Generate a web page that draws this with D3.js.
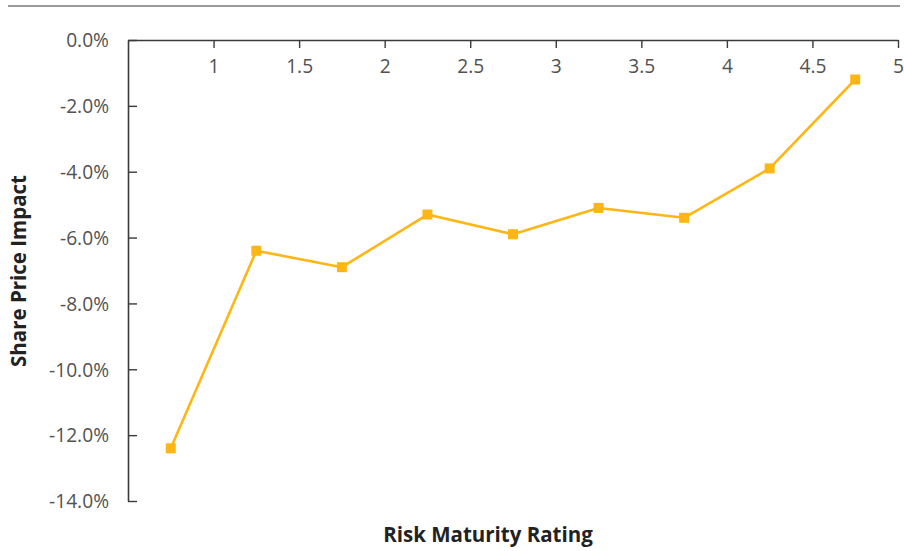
<!DOCTYPE html>
<html>
<head>
<meta charset="utf-8">
<script src="https://cdn.jsdelivr.net/npm/d3@7"></script>
<style>
  html, body { margin: 0; padding: 0; background: #fff; }
  svg { display: block; }
  text { font-family: "Open Sans", "Noto Sans", sans-serif; }
</style>
</head>
<body>
<script>
// Risk maturity rating vs. share price impact
const ratings = [0.75, 1.25, 1.75, 2.25, 2.75, 3.25, 3.75, 4.25, 4.75];
const impact = [-12.4, -6.4, -6.9, -5.3, -5.9, -5.1, -5.4, -3.9, -1.2];
const xTicks = [1, 1.5, 2, 2.5, 3, 3.5, 4, 4.5, 5];
const yTicks = [0, -2, -4, -6, -8, -10, -12, -14];
const xTitle = "Risk Maturity Rating";
const yTitle = "Share Price Impact";

const W = 904, H = 551;
const svg = d3.select("body").append("svg").attr("width", W).attr("height", H);

// separator rule across the top
svg.append("line")
  .attr("x1", 8).attr("x2", 900).attr("y1", 6).attr("y2", 6)
  .attr("stroke", "#9a9a9a").attr("stroke-width", 2);

const x = d3.scaleLinear().domain([0.5, 5]).range([128, 898]);
const y = d3.scaleLinear().domain([0, -14]).range([40, 501]);

const axisColor = "#3a3a3a";
const labelColor = "#525252";
const tickFont = 19.2;

// horizontal axis along the top (zero line), ticks pointing down into the plot
const gx = svg.append("g").attr("transform", `translate(0,${y(0)})`)
  .call(d3.axisBottom(x).tickValues(xTicks).tickFormat(d3.format("")).tickSize(8).tickSizeOuter(0).tickPadding(11));
gx.select(".domain").attr("stroke", axisColor).attr("stroke-width", 1.6);
gx.selectAll(".tick line").attr("stroke", axisColor).attr("stroke-width", 1.4);
gx.selectAll(".tick text").attr("fill", labelColor).attr("font-size", tickFont)
  .attr("font-family", "'Open Sans', 'Noto Sans', sans-serif");

// vertical axis, ticks pointing right into the plot, labels on the left
const pct = d => (d < 0 ? "-" : "") + d3.format(".1f")(Math.abs(d)) + "%";
const gy = svg.append("g").attr("transform", `translate(${x(0.5)},0)`)
  .call(d3.axisRight(y).tickValues(yTicks).tickFormat(pct).tickSize(9).tickSizeOuter(0));
gy.select(".domain").attr("stroke", axisColor).attr("stroke-width", 1.6);
gy.selectAll(".tick line").attr("stroke", axisColor).attr("stroke-width", 1.4);
gy.selectAll(".tick text")
  .attr("x", -19).attr("text-anchor", "end").attr("dy", "0.35em")
  .attr("fill", labelColor).attr("font-size", tickFont)
  .attr("font-family", "'Open Sans', 'Noto Sans', sans-serif");

// series line
const pts = ratings.map((r, i) => [r, impact[i]]);
svg.append("path")
  .datum(pts)
  .attr("fill", "none")
  .attr("stroke", "#FDB614")
  .attr("stroke-width", 2.6)
  .attr("stroke-linejoin", "round")
  .attr("d", d3.line().x(d => x(d[0])).y(d => y(d[1])));

// square markers
const m = 10;
svg.append("g").selectAll("rect").data(pts).join("rect")
  .attr("x", d => x(d[0]) - m / 2)
  .attr("y", d => y(d[1]) - m / 2)
  .attr("width", m).attr("height", m)
  .attr("fill", "#FDB614");

// axis titles
svg.append("text")
  .attr("x", 488).attr("y", 542)
  .attr("text-anchor", "middle")
  .attr("font-size", 20.5).attr("font-weight", "bold").attr("fill", "#222")
  .text(xTitle);

svg.append("text")
  .attr("transform", `translate(26,271) rotate(-90)`)
  .attr("text-anchor", "middle")
  .attr("font-size", 20.5).attr("font-weight", "bold").attr("fill", "#222")
  .text(yTitle);
</script>
</body>
</html>
